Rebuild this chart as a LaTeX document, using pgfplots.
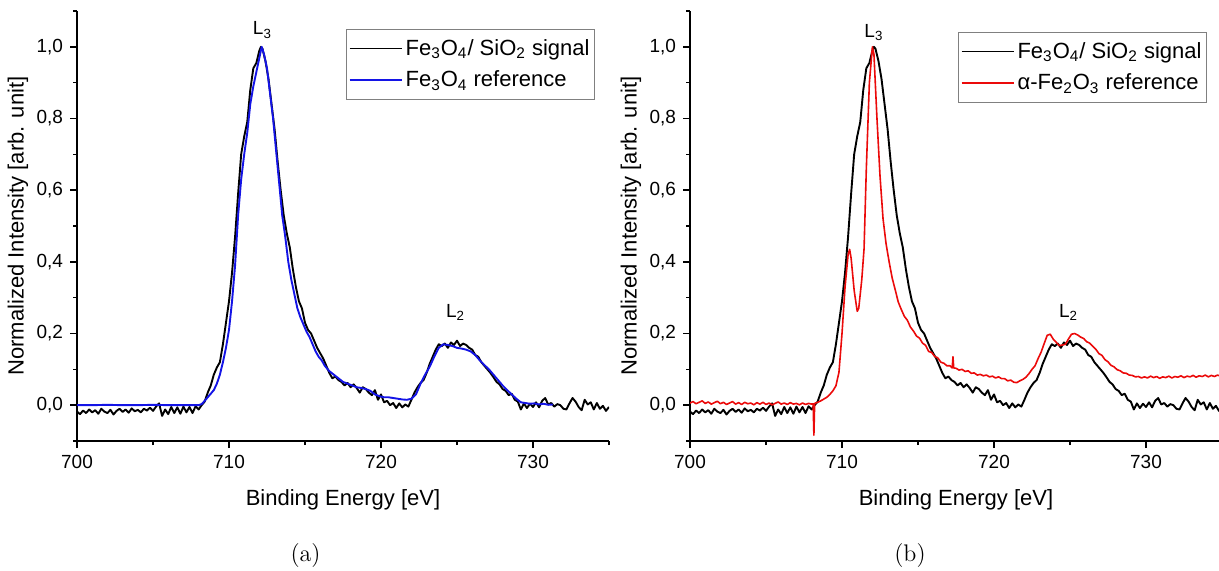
\documentclass[border=0pt]{standalone}
\usepackage{fontspec}
\setsansfont{Liberation Sans}
\usepackage{pgfplots}
\pgfplotsset{compat=1.18}
\usepackage{pgfplotstable}

\pgfplotstableread{
x y
700.0 -0.018
700.2 -0.025
700.4 -0.015
700.6 -0.022
700.8 -0.012
701.0 -0.020
701.2 -0.014
701.4 -0.024
701.6 -0.010
701.8 -0.018
702.0 -0.022
702.2 -0.013
702.4 -0.026
702.6 -0.016
702.8 -0.010
703.0 -0.019
703.2 -0.012
703.4 -0.021
703.6 -0.009
703.8 -0.017
704.0 -0.013
704.2 -0.020
704.4 -0.010
704.6 -0.015
704.8 -0.007
705.0 -0.016
705.2 -0.004
705.4 0.005
705.6 -0.030
705.8 -0.012
706.0 -0.025
706.2 -0.005
706.4 -0.022
706.6 -0.006
706.8 -0.024
707.0 -0.004
707.2 -0.020
707.4 -0.005
707.6 -0.022
707.8 -0.003
708.0 -0.012
708.2 0.000
708.4 0.010
708.6 0.035
708.8 0.055
709.0 0.085
709.2 0.105
709.4 0.12
709.6 0.17
709.8 0.23
710.0 0.29
710.2 0.37
710.4 0.47
710.6 0.59
710.8 0.70
711.0 0.75
711.2 0.79
711.4 0.88
711.6 0.94
711.8 0.955
712.0 0.99
712.1 1.0
712.2 0.995
712.4 0.96
712.6 0.91
712.8 0.84
713.0 0.77
713.2 0.68
713.4 0.60
713.6 0.53
713.8 0.48
714.0 0.44
714.2 0.38
714.4 0.33
714.6 0.29
714.8 0.27
715.0 0.23
715.2 0.21
715.4 0.20
715.6 0.18
715.8 0.16
716.0 0.145
716.2 0.13
716.4 0.11
716.6 0.09
716.8 0.075
717.0 0.08
717.2 0.07
717.4 0.065
717.6 0.055
717.8 0.062
718.0 0.05
718.2 0.058
718.4 0.048
718.6 0.035
718.8 0.05
719.0 0.045
719.2 0.035
719.4 0.028
719.6 0.042
719.8 0.015
720.0 0.03
720.2 0.008
720.4 0.012
720.6 0.000
720.8 0.006
721.0 -0.008
721.2 0.005
721.4 -0.006
721.6 0.002
721.8 -0.004
722.0 0.015
722.2 0.035
722.4 0.05
722.6 0.062
722.8 0.07
723.0 0.09
723.2 0.115
723.4 0.135
723.6 0.155
723.8 0.17
724.0 0.165
724.2 0.172
724.4 0.16
724.6 0.175
724.8 0.168
725.0 0.18
725.2 0.165
725.4 0.172
725.6 0.168
725.8 0.16
726.0 0.155
726.2 0.14
726.4 0.135
726.6 0.12
726.8 0.11
727.0 0.10
727.2 0.09
727.4 0.078
727.6 0.065
727.8 0.058
728.0 0.045
728.2 0.04
728.4 0.028
728.6 0.032
728.8 0.015
729.0 0.01
729.2 -0.012
729.4 0.005
729.6 -0.008
729.8 0.004
730.0 -0.005
730.2 0.008
730.4 -0.006
730.6 0.012
730.8 0.02
731.0 0.002
731.2 0.006
731.4 -0.004
731.6 0.003
731.8 0.0
732.0 -0.01
732.2 -0.012
732.4 0.005
732.6 0.02
732.8 0.01
733.0 -0.005
733.2 -0.014
733.4 0.015
733.6 0.002
733.8 0.008
734.0 -0.012
734.2 0.006
734.4 -0.01
734.6 -0.002
734.8 -0.016
735.0 -0.005
}\sig

\pgfplotstableread{
x y
700.0 0.0
701.0 0.0
702.0 0.001
703.0 0.0
704.0 0.0
705.0 0.001
706.0 0.0
707.0 0.0
708.0 0.0
708.2 0.003
708.4 0.012
708.6 0.022
708.8 0.032
709.0 0.042
709.2 0.06
709.4 0.085
709.6 0.12
709.8 0.16
710.0 0.21
710.2 0.29
710.4 0.39
710.6 0.53
710.8 0.63
711.0 0.70
711.2 0.76
711.4 0.84
711.6 0.89
711.8 0.93
712.0 0.97
712.15 1.0
712.3 0.98
712.5 0.94
712.7 0.87
712.9 0.80
713.1 0.71
713.3 0.62
713.5 0.53
713.7 0.47
713.9 0.40
714.1 0.35
714.3 0.31
714.5 0.27
714.7 0.245
714.9 0.225
715.1 0.205
715.3 0.19
715.5 0.17
715.7 0.15
715.9 0.135
716.1 0.125
716.3 0.11
716.6 0.095
716.9 0.085
717.2 0.075
717.5 0.065
717.8 0.06
718.1 0.055
718.4 0.05
718.7 0.048
719.0 0.045
719.3 0.04
719.6 0.03
719.9 0.025
720.2 0.022
720.5 0.022
720.8 0.02
721.1 0.018
721.4 0.016
721.7 0.015
722.0 0.018
722.3 0.03
722.6 0.06
722.9 0.085
723.2 0.107
723.5 0.135
723.8 0.16
724.1 0.17
724.4 0.168
724.7 0.165
725.0 0.16
725.3 0.158
725.6 0.155
725.9 0.15
726.2 0.14
726.5 0.125
726.8 0.112
727.1 0.10
727.4 0.085
727.7 0.07
728.0 0.055
728.3 0.042
728.6 0.03
728.9 0.018
729.2 0.008
729.5 0.006
729.8 0.004
730.1 0.005
730.4 0.002
730.7 0.004
731.0 0.001
731.3 0.002
}\magref

\pgfplotstableread{
x y
700.0 0.006
700.2 0.010
700.4 0.004
700.6 0.008
700.8 0.012
701.0 0.005
701.2 0.009
701.4 0.003
701.6 0.007
701.8 0.011
702.0 0.004
702.2 0.008
702.4 0.002
702.6 0.006
702.8 0.010
703.0 0.003
703.2 0.007
703.4 0.002
703.6 0.008
703.8 0.004
704.0 0.006
704.2 0.001
704.4 0.007
704.6 0.003
704.8 0.008
705.0 0.002
705.2 0.006
705.4 0.001
705.6 0.005
705.8 0.009
706.0 0.003
706.2 0.006
706.4 0.002
706.6 0.007
706.8 0.003
707.0 0.005
707.2 0.001
707.4 0.006
707.6 0.002
707.8 0.005
708.0 0.003
708.1 0.004
708.15 -0.084
708.2 0.005
708.4 0.008
708.6 0.012
708.8 0.017
709.0 0.022
709.2 0.03
709.4 0.04
709.6 0.054
709.8 0.092
710.0 0.20
710.2 0.33
710.4 0.42
710.5 0.435
710.6 0.41
710.8 0.32
711.0 0.262
711.1 0.27
711.3 0.35
711.45 0.436
711.6 0.66
711.8 0.90
712.0 1.0
712.1 0.98
712.3 0.80
712.5 0.64
712.7 0.52
712.9 0.45
713.1 0.40
713.3 0.355
713.5 0.322
713.7 0.288
713.9 0.267
714.1 0.248
714.3 0.237
714.5 0.218
714.7 0.207
714.9 0.193
715.1 0.187
715.3 0.173
715.5 0.167
715.7 0.150
715.9 0.147
716.1 0.136
716.3 0.132
716.5 0.120
716.7 0.117
716.9 0.110
717.1 0.110
717.25 0.104
717.3 0.135
717.35 0.104
717.5 0.103
717.7 0.098
717.9 0.100
718.1 0.094
718.3 0.096
718.5 0.089
718.7 0.090
718.9 0.084
719.1 0.086
719.3 0.082
719.5 0.084
719.7 0.079
719.9 0.081
720.1 0.076
720.3 0.079
720.5 0.074
720.7 0.074
720.9 0.068
721.1 0.070
721.3 0.064
721.5 0.063
721.7 0.068
721.9 0.072
722.1 0.078
722.3 0.088
722.5 0.10
722.7 0.11
722.9 0.13
723.1 0.148
723.3 0.172
723.5 0.195
723.7 0.198
723.9 0.184
724.1 0.175
724.3 0.166
724.5 0.168
724.7 0.17
724.9 0.185
725.1 0.198
725.3 0.2
725.5 0.196
725.7 0.19
725.9 0.186
726.1 0.177
726.3 0.173
726.5 0.164
726.7 0.156
726.9 0.144
727.1 0.139
727.3 0.127
727.5 0.121
727.7 0.111
727.9 0.107
728.1 0.099
728.3 0.096
728.5 0.090
728.7 0.089
728.9 0.084
729.1 0.083
729.3 0.079
729.5 0.080
729.7 0.076
729.9 0.079
730.1 0.076
730.3 0.081
730.5 0.077
730.7 0.080
730.9 0.075
731.1 0.079
731.3 0.077
731.5 0.081
731.7 0.076
731.9 0.080
732.1 0.078
732.3 0.082
732.5 0.077
732.7 0.081
732.9 0.079
733.1 0.083
733.3 0.078
733.5 0.082
733.7 0.080
733.9 0.084
734.1 0.079
734.3 0.083
734.5 0.080
734.7 0.084
734.9 0.081
735.0 0.082
}\hemref

\pgfplotsset{
  xpsstyle/.style={
    scale only axis, width=266pt, height=215pt,
    xmin=700, xmax=735, ymin=-0.1, ymax=1.1,
    axis x line*=bottom, axis y line*=left,
    axis line style={line width=0.8pt, -},
    every tick/.style={black, line width=0.8pt},
    tick align=outside,
    major tick length=3.5pt, minor tick length=2pt,
    xtick={700,710,720,730}, minor xtick={705,715,725,735},
    ytick={0,0.2,0.4,0.6,0.8,1.0},
    minor ytick={-0.1,0.1,0.3,0.5,0.7,0.9,1.1},
    /pgf/number format/assume math mode=true,
    tick label style={font=\sffamily\fontsize{9.5}{11}\selectfont},
    yticklabel style={/pgf/number format/.cd, fixed, fixed zerofill, precision=1, use comma},
    xticklabel style={/pgf/number format/.cd, fixed, set thousands separator={}},
    label style={font=\sffamily\fontsize{11}{13}\selectfont},
    xlabel={Binding Energy [eV]},
    ylabel={Normalized Intensity [arb. unit]},
    xlabel style={at={(axis description cs:0.5,-0.137)}, anchor=center},
    ylabel style={at={(axis description cs:-0.111,0.5)}, anchor=center},
    legend style={anchor=north east, draw=gray, line width=0.6pt,
      font=\sffamily\fontsize{11}{13}\selectfont,
      inner xsep=1pt, inner ysep=1.5pt, row sep=0pt,
      nodes={inner ysep=3.2pt, inner xsep=1.5pt}},
    legend cell align=left,
    legend image code/.code={\draw[#1, mark=none] (0pt,0pt) -- (26pt,0pt);},
    every axis plot/.append style={line width=0.95pt, line join=round, mark=none},
  }
}

\begin{document}
\begin{tikzpicture}[font=\sffamily]
\useasboundingbox (0,0) rectangle (609.5pt,285pt);
% (a)
\begin{axis}[xpsstyle, at={(38.5pt,64.5pt)}, anchor=south west,
  legend style={at={(0.974,0.958)}}]
\addplot[black] table {\sig};
\addlegendentry{Fe\textsubscript{3}O\textsubscript{4}/ SiO\textsubscript{2} signal}
\addplot[color={rgb,255:red,20;green,20;blue,230}] table {\magref};
\addlegendentry{Fe\textsubscript{3}O\textsubscript{4} reference}
\node[font=\sffamily\fontsize{9.5}{11}\selectfont] at (axis cs:712.2,1.047) {L\textsubscript{3}};
\node[font=\sffamily\fontsize{9.5}{11}\selectfont] at (axis cs:724.9,0.26) {L\textsubscript{2}};
\end{axis}
% (b)
\begin{axis}[xpsstyle, at={(345pt,64.5pt)}, anchor=south west,
  legend style={at={(0.972,0.951)}}]
\addplot[black] table {\sig};
\addlegendentry{Fe\textsubscript{3}O\textsubscript{4}/ SiO\textsubscript{2} signal}
\addplot[color={rgb,255:red,235;green,10;blue,10}, line width=0.8pt] table {\hemref};
\addlegendentry{α-Fe\textsubscript{2}O\textsubscript{3} reference}
\node[font=\sffamily\fontsize{9.5}{11}\selectfont] at (axis cs:712.1,1.04) {L\textsubscript{3}};
\node[font=\sffamily\fontsize{9.5}{11}\selectfont] at (axis cs:724.9,0.26) {L\textsubscript{2}};
\end{axis}
\node[font=\rmfamily\fontsize{12}{14}\selectfont] at (152.8pt,7.5pt) {(a)};
\node[font=\rmfamily\fontsize{12}{14}\selectfont] at (455pt,7.5pt) {(b)};
\end{tikzpicture}
\end{document}
